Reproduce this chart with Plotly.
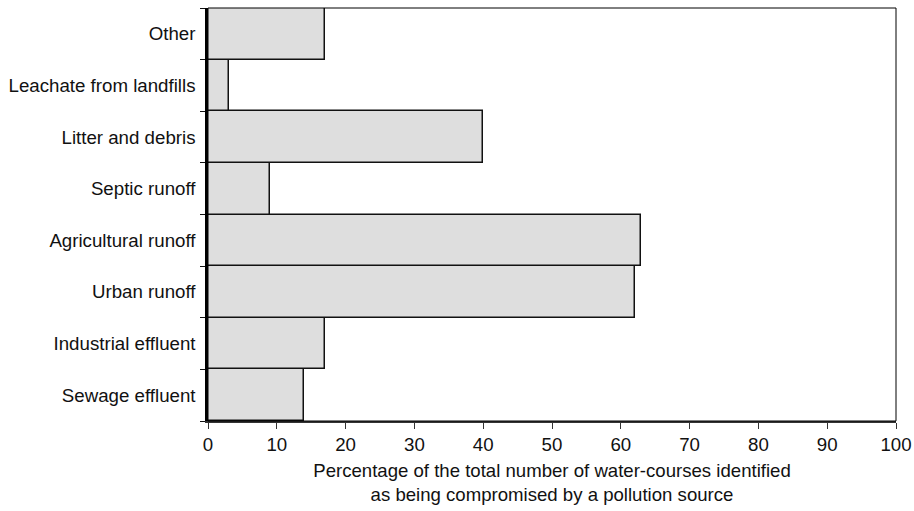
import plotly.graph_objects as go

categories = ["Sewage effluent", "Industrial effluent", "Urban runoff", "Agricultural runoff",
              "Septic runoff", "Litter and debris", "Leachate from landfills", "Other"]
values = [14, 17, 62, 63, 9, 40, 3, 17]
x_ticks = [0, 10, 20, 30, 40, 50, 60, 70, 80, 90, 100]

fig = go.Figure()
fig.add_trace(go.Bar(
    y=categories, x=values, orientation="h",
    marker=dict(color="#dedede", line=dict(color="#111111", width=1.5)),
    hoverinfo="x+y",
))

font = dict(family="Liberation Sans, Arial, Helvetica, sans-serif", size=18.7, color="#111111")

fig.update_layout(
    width=914, height=511,
    margin=dict(l=208, r=18, t=8, b=90, autoexpand=False),
    paper_bgcolor="white", plot_bgcolor="white",
    bargap=0, showlegend=False,
    font=font,
    xaxis=dict(
        range=[0, 100], tickvals=x_ticks, ticktext=[str(v) for v in x_ticks],
        showgrid=False, zeroline=False, automargin=False,
        showline=True, linecolor="#333333", linewidth=1.5,
        ticks="outside", ticklen=6, tickcolor="#333333", tickwidth=1,
        ticklabeloverflow="allow",
        title=dict(text="Percentage of the total number of water-courses identified<br>as being compromised by a pollution source",
                   standoff=10, font=dict(size=18.6)),
        fixedrange=True,
    ),
    yaxis=dict(
        categoryorder="array", categoryarray=categories,
        showgrid=False, zeroline=False, automargin=False,
        showline=True, linecolor="#000000", linewidth=2.5,
        ticks="outside", ticklen=5, tickcolor="#111111", tickwidth=1,
        tickson="boundaries", ticklabelstandoff=6,
        fixedrange=True,
    ),
    shapes=[dict(type="rect", xref="x domain", yref="y domain", x0=0, x1=1, y0=0, y1=1,
                 line=dict(color="#000000", width=1), fillcolor="rgba(0,0,0,0)", layer="above")],
)

fig.write_html("out.html", config={"displayModeBar": False},
               post_script="document.body.style.margin='0';document.body.style.overflow='hidden';")
